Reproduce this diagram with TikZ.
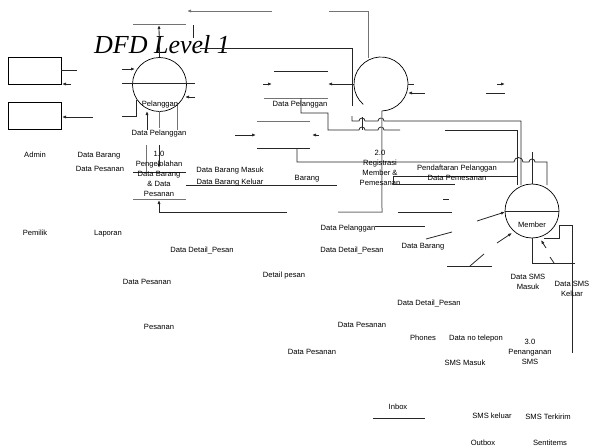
\documentclass[tikz,border=0pt]{standalone}
\usepackage{fontspec}
\setmainfont{Liberation Sans}
\newfontfamily\titlefont{Liberation Serif}
\usetikzlibrary{arrows.meta}
\begin{document}
\begin{tikzpicture}[x=1pt,y=-1pt,
  ln/.style={draw=black!85,line width=0.8pt},
  gl/.style={draw=black!55,line width=1pt},
  arr/.style={-{Latex[length=4pt,width=3.2pt]}},
  lbl/.style={inner sep=0pt,font=\fontsize{7.6}{9.6}\selectfont,text height=5.6pt,text depth=1.6pt},
  lblm/.style={inner sep=0pt,font=\fontsize{7.6}{9.8}\selectfont,align=center},
  proc/.style={draw=black,line width=0.7pt,circle,minimum size=54pt,inner sep=0pt},
  ent/.style={draw=black,line width=0.7pt,minimum width=53pt,minimum height=27pt,inner sep=0pt}]
\useasboundingbox (0,0) rectangle (590,447);
% title
\node[inner sep=0pt,anchor=base,font=\titlefont\itshape\fontsize{26}{29}\selectfont] (title) at (162,53) {DFD Level 1};
% external entities
\node[ent] (admin) at (34.5,70.5) {};
\node[ent] (pemilik) at (34.5,116) {};
% process circles
\node[proc] (p1) at (159.5,84.5) {};
\draw[line width=0.7pt] (381,84) ++(131:27) arc[start angle=131,end angle=448,radius=27] coordinate (p2b);
\node[inner sep=0pt,minimum size=54pt,circle] (p2) at (381,84) {};
\node[proc] (mem) at (532,211) {};
% top lines
\draw[gl,arr] (272,11) -- (187,11);
\draw[gl] (329,11) -- (368,11) -- (368,58);
\draw[gl] (133,24) -- (186,24);
\draw[ln,arr] (p1.north) -- (159,25);
\draw[ln] (193,25) -- (193,38);
\draw[ln] (200,48) -- (352,48) -- (352,106);
% admin / pemilik
\draw[ln] (admin.east |- 0,70) -- (77,70);
\draw[ln,arr] (71,84) -- (62,84);
\draw[ln,arr] (93,117) -- (62,117);
% circle 1 details
\draw[ln] (122,83) -- (195,83);
\draw[ln,arr] (122,69) -- (135,69);
\draw[ln,arr] (195,97) -- (185,97);
\draw[ln] (122,116) -- (136,116) -- (136,100);
\draw[ln,arr] (147,130) -- (147,111);
\draw[gl] (159,111) -- (159,128);
\draw[gl] (177,103) -- (177,130);
\node[lbl] (t1) at (160,104) {Pelanggan};
\node[lbl] (t2) at (159,133) {Data Pelanggan};
% store 1.0
\draw[gl] (146,145) -- (146,172);
\draw[ln,arr] (159,145) -- (159,168);
\node[lbl] (t3) at (159,154) {1.0};
\node[lbl] (t4) at (159,164) {Pengelolahan};
\draw[ln] (133,172) -- (186,172);
\node[lblm] (t5) at (159,184) {Data Barang\\\& Data\\Pesanan};
\draw[gl] (133,199) -- (186,199);
\draw[ln,arr] (287,212) -- (159,212) -- (159,200);
\draw[ln] (186,185) -- (337,185);
\node[lbl] (t6) at (230,170) {Data Barang Masuk};
\node[lbl] (t7) at (230,182) {Data Barang Keluar};
\node[lbl] (t8) at (307,178) {Barang};
% store Data Pelanggan (middle)
\draw[ln] (274,71) -- (328,71);
\draw[gl] (264,98) -- (328,98);
\draw[ln,arr] (263,84) -- (272,84);
\draw[ln,arr] (p2.west) -- (328,84);
\node[lbl] (t9) at (300,104) {Data Pelanggan};
\draw[ln] (301,98) -- (301,113) -- (328,113) -- (328,130) -- (359,130)
  arc[start angle=180,end angle=360,radius=3] -- (378,130)
  arc[start angle=180,end angle=360,radius=3] -- (400,130);
\draw[ln] (445,130) -- (517,130) -- (517,185);
\draw[ln] (352,116) -- (352,121) -- (359,121)
  arc[start angle=180,end angle=360,radius=3] -- (378,121)
  arc[start angle=180,end angle=360,radius=3] -- (521,121) -- (521,185);
\draw[ln] (362,117) -- (362,130);
% store Barang
\draw[gl] (257,121) -- (310,121);
\draw[ln] (257,148) -- (310,148);
\draw[ln,arr] (235,135) -- (256,135);
\draw[ln,arr] (319,135) -- (312,135);
\draw[ln] (297,148) -- (297,162) -- (514,162)
  arc[start angle=180,end angle=360,radius=4.5] -- (529,162)
  arc[start angle=180,end angle=360,radius=3] -- (547,162) -- (547,185);
\draw[ln] (532,152) -- (mem.north);
% circle 2 details
\draw[gl] (p2b) -- (382,212) -- (338,212);
\draw[ln] (408,84) -- (414,84);
\draw[ln,arr] (425,93) -- (408,93);
\draw[ln,arr] (497,84) -- (505,84);
\draw[ln] (486,93) -- (505,93);
\node[lblm] (t10) at (380,168) {2.0\\Registrasi\\Member \&\\Pemesanan};
% Data Pemesanan flow
\draw[ln] (517,176) -- (393,176) -- (393,184) -- (455,184);
\node[lbl] (t11) at (457,168) {Pendaftaran Pelanggan};
\node[lbl] (t12) at (457,178) {Data Pemesanan};
\draw[ln] (443,199) -- (449,199);
\draw[ln] (398,212) -- (452,212);
\node[lbl] (t13) at (348,228) {Data Pelanggan};
\draw[ln] (375,226) -- (425,226);
\node[lbl] (t14) at (352,250) {Data Detail\_Pesan};
\node[lbl] (t15) at (423,246) {Data Barang};
\draw[ln] (426,239) -- (452,232);
\draw[ln] (447,266) -- (492,266);
\draw[ln] (470,266) -- (484,254);
\draw[ln,arr] (477,221) -- (505,212);
\draw[ln,arr] (497,243) -- (512,233);
% Member
\draw[ln] (mem.west) -- (mem.east);
\node[lbl] (t16) at (532,225) {Member};
\draw[ln] (544,238) -- (559,238) -- (559,225) -- (572,225) -- (572,353);
\draw[ln,arr] (546,248) -- (541,240);
\draw[ln] (mem.south) -- (532,263);
\draw[ln] (532,263) -- (575,263);
\draw[ln] (550,257) -- (554,263);
\node[lblm] (t17) at (528,282) {Data SMS\\Masuk};
\node[lblm] (t18) at (572,288.5) {Data SMS\\Keluar};
% other labels
\node[lbl] (t19) at (35,155) {Admin};
\node[lbl] (t20) at (99,155) {Data Barang};
\node[lbl] (t21) at (100,169) {Data Pesanan};
\node[lbl] (t22) at (35,233) {Pemilik};
\node[lbl] (t23) at (108,233) {Laporan};
\node[lbl] (t24) at (202,250) {Data Detail\_Pesan};
\node[lbl] (t25) at (147,282) {Data Pesanan};
\node[lbl] (t26) at (284,275) {Detail pesan};
\node[lbl] (t27) at (159,327) {Pesanan};
\node[lbl] (t28) at (429,303) {Data Detail\_Pesan};
\node[lbl] (t29) at (362,325) {Data Pesanan};
\node[lbl] (t30) at (312,352) {Data Pesanan};
\node[lbl] (t31) at (423,338) {Phones};
\node[lbl] (t32) at (476,338) {Data no telepon};
\node[lblm] (t33) at (530,352) {3.0\\Penanganan\\SMS};
\node[lbl] (t34) at (465,363) {SMS Masuk};
\node[lbl] (t35) at (398,407) {Inbox};
\draw[ln] (373,418) -- (425,418);
\node[lbl] (t36) at (492,416) {SMS keluar};
\node[lbl] (t37) at (548,417) {SMS Terkirim};
\node[lbl] (t38) at (483,443) {Outbox};
\node[lbl] (t39) at (550,443) {Sentitems};
\end{tikzpicture}
\end{document}
